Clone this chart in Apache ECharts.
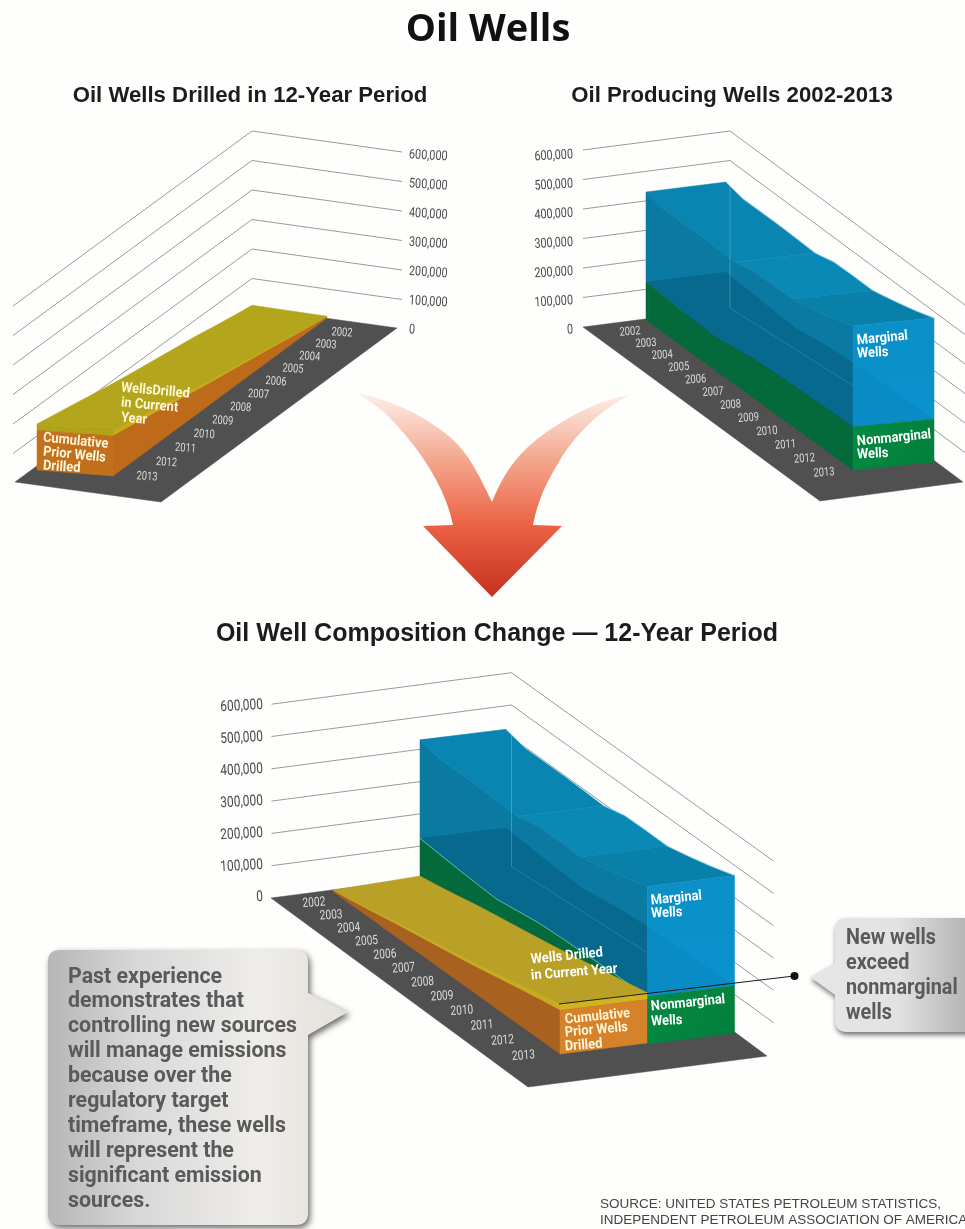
<!DOCTYPE html>
<html>
<head>
<meta charset="utf-8">
<title>Oil Wells</title>
<script src="https://cdn.jsdelivr.net/npm/echarts@6/dist/echarts.min.js"></script>
<style>html,body{margin:0;padding:0;background:#fefefd}#chart{width:965px;height:1229px}</style>
</head>
<body>
<div id="chart"></div>
<script>
// Oil well counts by year, in wells
const years = [2002,2003,2004,2005,2006,2007,2008,2009,2010,2011,2012,2013];
const yTicks = [0,100000,200000,300000,400000,500000,600000];
const nonmarginalWells = [129000,124000,119000,115000,112000,122000,132000,136000,139000,142000,144000,146000];
const marginalWells = [305000,295000,300000,304000,305000,292000,298000,295000,291000,304000,321000,342000];
const cumulativePriorWells = [3000,12000,23000,35000,46000,57000,68000,80000,94000,108000,122000,135000];
const wellsDrilledCurrentYear = [3000,5000,7000,9000,10000,11000,12000,13000,14000,16000,18000,21000];

const NARROW = '"Roboto",sans-serif';
const FLOOR = '#505050';
const GRIDLINE = '#8f8f8f';

// Oblique frame of each panel: the wall lines, the floor and the footprint of each solid
const panels = {
  drilled: {
    grid: {left: 13, top: 131, width: 389, height: 177},
    wall: [[13,483],[252,308],[402,329]],
    floor: [[397,328],[252,308],[15,482],[161,502]],
    yearEnds: [[342,333],[147,477]], yearRot: -0.07, yearFont: 12,
    tickAt: [409,330], tickStep: 29.2, tickAlign: 'left', tickRot: -0.06, tickFont: 13.5,
    feet: {wells: [[252,307],[327,318],[37,470],[113,476]]}
  },
  producing: {
    grid: {left: 583, top: 131, width: 382, height: 177},
    wall: [[583,327],[730,308],[965,482]],
    floor: [[583,327],[730,308],[963,482],[820,501]],
    yearEnds: [[630,332],[824,473]], yearRot: 0.07, yearFont: 12,
    tickAt: [573,330], tickStep: 29.2, tickAlign: 'right', tickRot: 0.06, tickFont: 13.5,
    feet: {wells: [[726,310],[646,320],[934,462],[853,470]]}
  },
  composition: {
    grid: {left: 271, top: 672.7, width: 503, height: 193.8},
    wall: [[271.5,898],[511.5,866.5],[773.7,1055]],
    floor: [[271,898],[511.5,866.5],[767,1056],[528,1087]],
    yearEnds: [[314,903],[523.5,1056]], yearRot: 0.07, yearFont: 13,
    tickAt: [263,897], tickStep: 32, tickAlign: 'right', tickRot: 0.06, tickFont: 15,
    feet: {
      wells: [[506,869.5],[420,880],[734.5,1033],[647.5,1044]],
      drilled: [[420,878],[333.5,892],[647,1043],[560,1054]]
    }
  }
};

// Shade of the top surface, split at the years where its slope turns
const BLUE = {top: [{to: 5, color: '#0a85b1'}, {to: 8, color: '#0a88b6'}, {to: 11, color: '#0980aa'}], side: '#0a7aa3'};
const GREEN = {top: null, side: '#04693b'};
const YELLOW_A = {top: [{to: 11, color: '#b3a61c'}], side: '#c8a81c', front: '#b0a31a'};
const ORANGE_A = {top: null, side: '#bd6a1b', front: '#c2701e'};
const YELLOW_C = {top: [{to: 11, color: '#b9a026'}], side: '#c9a920', front: '#d2b21e'};
const ORANGE_C = {top: null, side: '#a9611f', front: '#d5822a'};

const stack = (a, b) => a.map((v, i) => v + b[i]);
const producingTotal = stack(nonmarginalWells, marginalWells);
const drilledTotal = stack(cumulativePriorWells, wellsDrilledCurrentYear);
const zeros = years.map(() => 0);

const panelKeys = Object.keys(panels);
const gridOf = k => panelKeys.indexOf(k);

// Later years crowd less than earlier ones in this view
const ease = s => s * (1 + 0.12 * s) / 1.12;
const lerp = (a, b, t) => [a[0] + (b[0] - a[0]) * t, a[1] + (b[1] - a[1]) * t];

// Flat axis position to oblique screen position: year along the solid, d across it, height straight up
function placer(panel, foot, api) {
  const g = panel.grid;
  return function (i, v, d) {
    const flat = api.coord([i, v]);
    const s = ease((api.coord([i, 0])[0] - g.left) / g.width);
    const p = lerp(lerp(foot[0], foot[2], s), lerp(foot[1], foot[3], s), d);
    return [p[0], p[1] - (g.top + g.height - flat[1])];
  };
}

const poly = (points, fill, stroke, width) => ({
  type: 'polygon',
  shape: {points},
  style: {fill, stroke: stroke === undefined ? fill : stroke, lineWidth: width === undefined ? 0.5 : width}
});
const line = (points, stroke, width) => ({
  type: 'polyline', shape: {points}, style: {fill: null, stroke, lineWidth: width}
});

function baseSeries(key, name, data, renderItem) {
  return {
    type: 'custom', name, coordinateSystem: 'cartesian2d',
    xAxisIndex: gridOf(key), yAxisIndex: gridOf(key),
    data, renderItem, silent: true, animation: false, clip: false,
    encode: {x: 0, y: 1}
  };
}

function floorSeries(key) {
  const panel = panels[key];
  return baseSeries(key, key + ' floor', [[0, 0]], () => poly(panel.floor, FLOOR));
}

// Wall lines and value labels, one row per tick
function wallSeries(key) {
  const panel = panels[key];
  const g = panel.grid;
  return baseSeries(key, key + ' wall', yTicks.map(t => [0, t]), (params, api) => {
    const tick = api.value(1);
    const h = g.top + g.height - api.coord([0, tick])[1];
    const children = [{
      type: 'text',
      x: panel.tickAt[0],
      y: panel.tickAt[1] - panel.tickStep * (tick / 100000),
      rotation: panel.tickRot,
      scaleX: 0.8,
      style: {text: tick.toLocaleString('en-US'), fill: '#4a4a4a', font: panel.tickFont + 'px ' + NARROW, align: panel.tickAlign, verticalAlign: 'middle'}
    }];
    if (tick > 0) {
      children.push(line(panel.wall.map(p => [p[0], p[1] - h]), GRIDLINE, 0.9));
    }
    return {type: 'group', children};
  });
}

function yearSeries(key) {
  const panel = panels[key];
  const g = panel.grid;
  return baseSeries(key, key + ' years', years.map((y, i) => [i, 0, y]), (params, api) => {
    const s = ease((api.coord([api.value(0), 0])[0] - g.left) / g.width);
    const p = lerp(panel.yearEnds[0], panel.yearEnds[1], s);
    return {
      type: 'text', x: p[0], y: p[1], rotation: panel.yearRot, scaleX: 0.78,
      style: {text: String(api.value(2)), fill: '#dcdcdc', font: panel.yearFont + 'px ' + NARROW, align: 'center', verticalAlign: 'middle'}
    };
  });
}

// One layer of a stacked solid: its top surface, in shaded runs of years, and its near side
function stratumSeries(key, foot, name, base, top, paint) {
  const panel = panels[key];
  const rows = years.map((y, i) => [i, base[i], top[i]]);
  return baseSeries(key, name, rows, (params, api) => {
    if (params.dataIndex !== 0) return null;
    const at = placer(panel, foot, api);
    const children = [];
    let from = 0;
    (paint.top || []).forEach(run => {
      const span = rows.slice(from, run.to + 1);
      const far = span.map(r => at(r[0], r[2], 0));
      const near = span.map(r => at(r[0], r[2], 1)).reverse();
      children.push(poly(far.concat(near), run.color));
      from = run.to;
    });
    const upper = rows.map(r => at(r[0], r[2], 1));
    const lower = rows.map(r => at(r[0], r[1], 1)).reverse();
    children.push(poly(upper.concat(lower), paint.side));
    return {type: 'group', children};
  });
}

function frontSeries(key, foot, name, base, top, fill) {
  const panel = panels[key];
  const last = years.length - 1;
  return baseSeries(key, name, [[last, base[last], top[last]]], (params, api) => {
    const at = placer(panel, foot, api);
    const b = api.value(1), t = api.value(2);
    return poly([at(last, b, 0), at(last, b, 1), at(last, t, 1), at(last, t, 0)], fill);
  });
}

// The surface of a lower layer showing through the translucent layer above it
function throughSeries(key, foot, name, values, fill) {
  const panel = panels[key];
  return baseSeries(key, name, [[0, values[0]]], (params, api) => {
    const at = placer(panel, foot, api);
    const near = values.map((v, i) => at(i, v, 1));
    const far = values.map((v, i) => at(i, v, 0)).reverse();
    return poly(near.concat(far), fill, null, 0);
  });
}

function edgeSeries(key, foot, name, values, d, stroke, width) {
  const panel = panels[key];
  return baseSeries(key, name, [[0, values[0]]], (params, api) => {
    const at = placer(panel, foot, api);
    return line(values.map((v, i) => at(i, v, d)), stroke, width);
  });
}

// Faint wall corner and wall foot seen through the solid
function ghostSeries(key, foot, topAtBack) {
  const panel = panels[key];
  const g = panel.grid;
  return baseSeries(key, key + ' corner', [[0, topAtBack]], (params, api) => {
    const h = g.top + g.height - api.coord([0, api.value(1)])[1];
    const c = panel.wall[1];
    const r = foot[2];
    return {type: 'group', children: [
      line([[c[0], c[1] - h + 6], c], 'rgba(190,235,250,0.28)', 1),
      line([c, [r[0] - 8, r[1] - 30]], 'rgba(190,235,250,0.18)', 1)
    ]};
  });
}

const blueGrad = {type: 'linear', x: 0, y: 0, x2: 0, y2: 1, colorStops: [{offset: 0, color: '#0b8fc6'}, {offset: 1, color: '#0a93cf'}]};
const greenGrad = {type: 'linear', x: 0, y: 0, x2: 1, y2: 1, colorStops: [{offset: 0, color: '#038a42'}, {offset: 1, color: '#027f3c'}]};

function producingLayers(key, aqua) {
  const foot = panels[key].feet.wells;
  const list = [
    stratumSeries(key, foot, 'Marginal Wells', nonmarginalWells, producingTotal, BLUE),
    stratumSeries(key, foot, 'Nonmarginal Wells', zeros, nonmarginalWells, GREEN),
    throughSeries(key, foot, 'Nonmarginal surface', nonmarginalWells, 'rgba(0,40,60,0.15)'),
    ghostSeries(key, foot, producingTotal[0]),
    frontSeries(key, foot, 'Marginal front', nonmarginalWells, producingTotal, blueGrad),
    frontSeries(key, foot, 'Nonmarginal front', zeros, nonmarginalWells, greenGrad),
    throughSeries(key, foot, 'Nonmarginal surface front', nonmarginalWells, 'rgba(0,40,60,0.05)'),
    edgeSeries(key, foot, 'Total far edge', producingTotal, 0, 'rgba(200,240,250,0.8)', 0.9)
  ];
  if (aqua) list.push(edgeSeries(key, foot, 'Nonmarginal near edge', nonmarginalWells, 1, '#63c6bb', 0.9));
  return list;
}

function drilledLayers(key, foot, yellow, orange) {
  return [
    stratumSeries(key, foot, 'Wells Drilled in Current Year', cumulativePriorWells, drilledTotal, yellow),
    stratumSeries(key, foot, 'Cumulative Prior Wells Drilled', zeros, cumulativePriorWells, orange),
    frontSeries(key, foot, 'Current year front', cumulativePriorWells, drilledTotal, yellow.front),
    frontSeries(key, foot, 'Cumulative front', zeros, cumulativePriorWells, orange.front)
  ];
}

// Arrow and callout shapes, laid on the page itself
const pageShapes = [
  {
    d: 'M357 393 C395 400 430 420 450 437 S480 478 492 502 C505 470 520 452 540 437 S595 400 630 395 C600 410 575 435 560 460 S538 500 533 525 L562 526 L492 597 L423 526 L453 525 C447 495 430 465 407 437 S375 405 357 393 Z',
    style: {fill: {type: 'linear', x: 0, y: 0, x2: 0, y2: 1, colorStops: [
      {offset: 0, color: '#fdf0ea'}, {offset: 0.33, color: '#f3a68d'}, {offset: 0.65, color: '#ec6244'}, {offset: 1, color: '#c5301f'}
    ]}}
  },
  {
    d: 'M60 950 H296 Q308 950 308 962 V993 L348 1012 L308 1035 V1213 Q308 1225 296 1225 H60 Q48 1225 48 1213 V962 Q48 950 60 950 Z',
    style: {
      fill: {type: 'linear', x: 0, y: 0, x2: 1, y2: 0, colorStops: [
        {offset: 0, color: '#b6b6b6'}, {offset: 0.3, color: '#d8d8d8'}, {offset: 0.7, color: '#efedea'}, {offset: 1, color: '#e4e0da'}
      ]},
      shadowBlur: 6, shadowColor: 'rgba(0,0,0,0.6)', shadowOffsetX: 2, shadowOffsetY: 3
    }
  },
  {
    d: 'M847 918 H985 V1032 H847 Q835 1032 835 1020 V995 L810 977 L835 963 V930 Q835 918 847 918 Z',
    style: {
      fill: {type: 'linear', x: 0, y: 0, x2: 1, y2: 0, colorStops: [
        {offset: 0, color: '#e6e6e6'}, {offset: 0.5, color: '#e2e2e2'}, {offset: 1, color: '#a8a8a8'}
      ]},
      shadowBlur: 5, shadowColor: 'rgba(0,0,0,0.55)', shadowOffsetX: 1, shadowOffsetY: 3
    }
  }
];
const pageShapeSeries = {
  type: 'custom', name: 'page shapes', coordinateSystem: 'none', silent: true, animation: false,
  data: pageShapes.map((s, i) => [i]),
  renderItem: (params) => {
    const item = pageShapes[params.dataIndex];
    return {type: 'path', shape: {pathData: item.d}, style: item.style};
  }
};

const series = [
  pageShapeSeries,
  floorSeries('drilled'), wallSeries('drilled'), yearSeries('drilled'),
  ...drilledLayers('drilled', panels.drilled.feet.wells, YELLOW_A, ORANGE_A),
  floorSeries('producing'), wallSeries('producing'), yearSeries('producing'),
  ...producingLayers('producing', false),
  floorSeries('composition'), wallSeries('composition'), yearSeries('composition'),
  ...producingLayers('composition', true),
  ...drilledLayers('composition', panels.composition.feet.drilled, YELLOW_C, ORANGE_C)
];

const axisBase = {show: false, min: 0};
const grid = panelKeys.map(k => Object.assign({containLabel: false}, panels[k].grid));
const xAxis = panelKeys.map((k, i) => Object.assign({type: 'value', max: 11, interval: 1, gridIndex: i}, axisBase));
const yAxis = panelKeys.map((k, i) => Object.assign({type: 'value', max: 600000, interval: 100000, gridIndex: i}, axisBase));

const titleStyle = {fontFamily: '"Liberation Sans",Arial,sans-serif', fontWeight: 'bold', fontSize: 22.2, color: '#1c1c1c'};
const title = [
  {text: 'Oil Wells', left: 488, top: 11, padding: 0, textAlign: 'center', textStyle: {fontFamily: '"Open Sans",sans-serif', fontWeight: 'bold', fontSize: 38, color: '#111'}},
  {text: 'Oil Wells Drilled in 12-Year Period', left: 250, top: 85, padding: 0, textAlign: 'center', textStyle: titleStyle},
  {text: 'Oil Producing Wells 2002-2013', left: 732, top: 85, padding: 0, textAlign: 'center', textStyle: titleStyle},
  {text: 'Oil Well Composition Change \u2014 12-Year Period', left: 497, top: 622, padding: 0, textAlign: 'center', textStyle: Object.assign({}, titleStyle, {fontSize: 25})},
];

// Text set on the faces of the solids
const faceFont = 'bold 14px "Roboto","Liberation Sans",sans-serif';
function faceText(text, x, y, rot, fill) {
  return {
    type: 'text', x, y, rotation: rot, scaleX: 0.92, z: 50, silent: true,
    style: {text, fill: fill || '#fff', font: faceFont, align: 'left', verticalAlign: 'middle',
      shadowBlur: 2, shadowColor: 'rgba(40,30,10,0.75)', shadowOffsetX: 1, shadowOffsetY: 1}
  };
}
const CREAM = '#fff6d8';
const faceLabels = [
  ['Cumulative', 43, 438, -0.1, CREAM], ['Prior Wells', 43, 452, -0.1, CREAM], ['Drilled', 43, 466, -0.07, CREAM],
  ['WellsDrilled', 121, 388, -0.09, CREAM], ['in Current', 121, 403, -0.09, CREAM], ['Year', 121, 418, -0.09, CREAM],
  ['Marginal', 857, 341, 0.1], ['Wells', 857, 354, 0.05],
  ['Nonmarginal', 857, 442, 0.1], ['Wells', 857, 455, 0.05],
  ['Marginal', 651, 901, 0.1], ['Wells', 651, 914, 0.05],
  ['Nonmarginal', 651, 1007, 0.1], ['Wells', 651, 1022, 0.05],
  ['Wells Drilled', 531, 960, 0.1], ['in Current Year', 531, 976, 0.08],
  ['Cumulative', 565, 1020, 0.1, CREAM], ['Prior Wells', 565, 1033, 0.09, CREAM], ['Drilled', 565, 1047, 0.08, CREAM]
].map(r => faceText(r[0], r[1], r[2], r[3], r[4]));

const calloutFont = 'bold 22px "Roboto","Liberation Sans",sans-serif';
const leftLines = ['Past experience','demonstrates that','controlling new sources','will manage emissions','because over the','regulatory target','timeframe, these wells','will represent the','significant emission','sources.'];
const rightLines = ['New wells','exceed','nonmarginal','wells'];

const sourceFont = '13.5px "Liberation Sans",Arial,sans-serif';
const graphicElements = [
  // Leader from the top of the new-well stack to the callout
  {type: 'polyline', z: 60, silent: true, shape: {points: [[559,1004],[794,976]]}, style: {stroke: '#1a1a1a', lineWidth: 1, fill: null}},
  {type: 'circle', z: 60, silent: true, shape: {cx: 794.5, cy: 976, r: 4}, style: {fill: '#111'}},
  ...leftLines.map((t, i) => ({
    type: 'text', z: 6, silent: true, x: 68, y: 977 + i * 24.9, scaleX: 0.97,
    style: {text: t, fill: '#5a5a5a', font: calloutFont, align: 'left', verticalAlign: 'middle'}
  })),
  ...rightLines.map((t, i) => ({
    type: 'text', z: 6, silent: true, x: 846, y: 938 + i * 25, scaleX: 0.9,
    style: {text: t, fill: '#5a5a5a', font: calloutFont, align: 'left', verticalAlign: 'middle'}
  })),
  {type: 'text', z: 6, silent: true, x: 600, y: 1204, style: {text: 'SOURCE: UNITED STATES PETROLEUM STATISTICS,', fill: '#444', font: sourceFont, align: 'left', verticalAlign: 'middle'}},
  {type: 'text', z: 6, silent: true, x: 600, y: 1220, style: {text: 'INDEPENDENT PETROLEUM ASSOCIATION OF AMERICA', fill: '#444', font: sourceFont, align: 'left', verticalAlign: 'middle'}},
  ...faceLabels
];

const chart = echarts.init(document.getElementById('chart'));
chart.setOption({
  backgroundColor: '#fefefd',
  animation: false,
  tooltip: {show: false},
  title, grid, xAxis, yAxis, series,
  graphic: {elements: graphicElements}
});
</script>
</body>
</html>
